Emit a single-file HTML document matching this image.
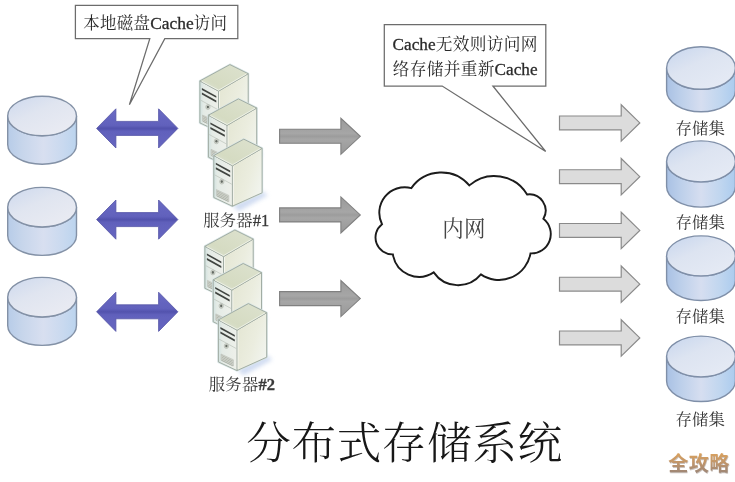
<!DOCTYPE html>
<html lang="zh-CN">
<head>
<meta charset="utf-8">
<title>分布式存储系统</title>
<style>
html,body{margin:0;padding:0;background:#fff;}
body{width:735px;height:482px;overflow:hidden;font-family:"Liberation Serif",serif;}
svg{display:block;}
</style>
</head>
<body>
<svg width="735" height="482" viewBox="0 0 735 482">
<defs>

<linearGradient id="cylBody" x1="0" y1="0" x2="1" y2="0">
  <stop offset="0" stop-color="#b7cce8"/><stop offset="0.2" stop-color="#c6d5eb"/>
  <stop offset="0.52" stop-color="#d8dff0"/><stop offset="0.8" stop-color="#c9d9ef"/>
  <stop offset="1" stop-color="#bbd4ee"/>
</linearGradient>
<linearGradient id="cylTop" x1="0.1" y1="0" x2="0.9" y2="1">
  <stop offset="0" stop-color="#cfdaee"/><stop offset="0.4" stop-color="#e0e5f0"/>
  <stop offset="1" stop-color="#ebecf3"/>
</linearGradient>
<linearGradient id="cylBodyR" x1="0" y1="0" x2="1" y2="0">
  <stop offset="0" stop-color="#a9c1e4"/><stop offset="0.2" stop-color="#bccfea"/>
  <stop offset="0.5" stop-color="#d6def0"/><stop offset="0.78" stop-color="#c0d6ef"/>
  <stop offset="1" stop-color="#abcbee"/>
</linearGradient>
<linearGradient id="cylTopR" x1="0.1" y1="0" x2="0.9" y2="1">
  <stop offset="0" stop-color="#c9d7ee"/><stop offset="0.4" stop-color="#dde4f1"/>
  <stop offset="1" stop-color="#e6ebf5"/>
</linearGradient>
<linearGradient id="purple" x1="0" y1="0" x2="0" y2="1">
  <stop offset="0" stop-color="#6a6ac4"/><stop offset="0.42" stop-color="#6161bc"/>
  <stop offset="0.5" stop-color="#5252ad"/><stop offset="0.58" stop-color="#6161bc"/>
  <stop offset="1" stop-color="#6666c0"/>
</linearGradient>
<linearGradient id="dgrey" x1="0" y1="0" x2="0" y2="1">
  <stop offset="0" stop-color="#9a9a9a"/><stop offset="0.42" stop-color="#a6a6a6"/>
  <stop offset="0.5" stop-color="#9c9c9c"/><stop offset="0.58" stop-color="#a6a6a6"/>
  <stop offset="1" stop-color="#989898"/>
</linearGradient>
<linearGradient id="srvFront" x1="0" y1="0" x2="1" y2="0">
  <stop offset="0" stop-color="#d2e2e0"/><stop offset="0.2" stop-color="#e4ebe6"/>
  <stop offset="1" stop-color="#eef0ea"/>
</linearGradient>
<linearGradient id="srvSide" x1="0" y1="0.2" x2="1" y2="0.8">
  <stop offset="0" stop-color="#e4e6d3"/><stop offset="0.55" stop-color="#ebeddf"/><stop offset="1" stop-color="#f2f5f0"/>
</linearGradient>
<linearGradient id="srvTop" x1="0" y1="1" x2="1" y2="0">
  <stop offset="0" stop-color="#dde4d6"/><stop offset="0.3" stop-color="#d5dbc2"/><stop offset="1" stop-color="#dde2cf"/>
</linearGradient>
<linearGradient id="wm" x1="0" y1="0" x2="0" y2="1">
  <stop offset="0" stop-color="#dca35d"/><stop offset="0.45" stop-color="#c2966a"/>
  <stop offset="1" stop-color="#968379"/>
</linearGradient>
<filter id="jpegsoft" x="0" y="0" width="735" height="482" filterUnits="userSpaceOnUse"><feGaussianBlur stdDeviation="0.45"/></filter>
<filter id="soft" x="-20%" y="-20%" width="140%" height="140%"><feGaussianBlur stdDeviation="2.2"/></filter>
</defs>
<rect width="735" height="482" fill="#fff"/>
<g filter="url(#jpegsoft)">
<path d="M7.7 116 V144.4 A34.4 19.8 0 0 0 76.5 144.4 V116 A34.4 19.8 0 0 1 7.7 116 Z" fill="url(#cylBody)" stroke="#8391a6" stroke-width="1.4"/>
<ellipse cx="42.1" cy="116" rx="34.4" ry="19.8" fill="url(#cylTop)" stroke="#8391a6" stroke-width="1.4"/>
<path d="M7.7 207.2 V235.6 A34.4 19.8 0 0 0 76.5 235.6 V207.2 A34.4 19.8 0 0 1 7.7 207.2 Z" fill="url(#cylBody)" stroke="#8391a6" stroke-width="1.4"/>
<ellipse cx="42.1" cy="207.2" rx="34.4" ry="19.8" fill="url(#cylTop)" stroke="#8391a6" stroke-width="1.4"/>
<path d="M7.7 297.2 V325.6 A34.4 19.8 0 0 0 76.5 325.6 V297.2 A34.4 19.8 0 0 1 7.7 297.2 Z" fill="url(#cylBody)" stroke="#8391a6" stroke-width="1.4"/>
<ellipse cx="42.1" cy="297.2" rx="34.4" ry="19.8" fill="url(#cylTop)" stroke="#8391a6" stroke-width="1.4"/>
<path d="M666.6 68 V90.5 A34.4 21.3 0 0 0 735.4 90.5 V68 A34.4 21.3 0 0 1 666.6 68 Z" fill="url(#cylBodyR)" stroke="#7f8fa8" stroke-width="1.4"/>
<ellipse cx="701" cy="68" rx="34.4" ry="21.3" fill="url(#cylTopR)" stroke="#7f8fa8" stroke-width="1.4"/>
<path d="M666.6 161.4 V186.6 A34.4 20.5 0 0 0 735.4 186.6 V161.4 A34.4 20.5 0 0 1 666.6 161.4 Z" fill="url(#cylBodyR)" stroke="#7f8fa8" stroke-width="1.4"/>
<ellipse cx="701" cy="161.4" rx="34.4" ry="20.5" fill="url(#cylTopR)" stroke="#7f8fa8" stroke-width="1.4"/>
<path d="M666.6 255.9 V280.5 A34.4 20 0 0 0 735.4 280.5 V255.9 A34.4 20 0 0 1 666.6 255.9 Z" fill="url(#cylBodyR)" stroke="#7f8fa8" stroke-width="1.4"/>
<ellipse cx="701" cy="255.9" rx="34.4" ry="20" fill="url(#cylTopR)" stroke="#7f8fa8" stroke-width="1.4"/>
<path d="M666.6 356.5 V381.1 A34.4 20.4 0 0 0 735.4 381.1 V356.5 A34.4 20.4 0 0 1 666.6 356.5 Z" fill="url(#cylBodyR)" stroke="#7f8fa8" stroke-width="1.4"/>
<ellipse cx="701" cy="356.5" rx="34.4" ry="20.4" fill="url(#cylTopR)" stroke="#7f8fa8" stroke-width="1.4"/>
<polygon points="96.6,128.4 115.9,108.8 115.9,121.4 158.6,121.4 158.6,108.8 177.9,128.4 158.6,148 158.6,135.4 115.9,135.4 115.9,148" fill="url(#purple)" stroke="#5454a6" stroke-width="0.8" stroke-linejoin="round"/>
<polygon points="96.6,219.6 115.9,200 115.9,212.6 158.6,212.6 158.6,200 177.9,219.6 158.6,239.2 158.6,226.6 115.9,226.6 115.9,239.2" fill="url(#purple)" stroke="#5454a6" stroke-width="0.8" stroke-linejoin="round"/>
<polygon points="96.6,311.8 115.9,292.2 115.9,304.8 158.6,304.8 158.6,292.2 177.9,311.8 158.6,331.4 158.6,318.8 115.9,318.8 115.9,331.4" fill="url(#purple)" stroke="#5454a6" stroke-width="0.8" stroke-linejoin="round"/>
<polygon points="279.6,129.3 340.9,129.3 340.9,118.3 360.3,136.3 340.9,154.3 340.9,143.3 279.6,143.3" fill="url(#dgrey)" stroke="#808080" stroke-width="1.1" stroke-linejoin="miter"/>
<polygon points="279.6,207.9 340.9,207.9 340.9,196.9 360.3,214.9 340.9,232.9 340.9,221.9 279.6,221.9" fill="url(#dgrey)" stroke="#808080" stroke-width="1.1" stroke-linejoin="miter"/>
<polygon points="279.6,291.6 340.9,291.6 340.9,280.6 360.3,298.6 340.9,316.6 340.9,305.6 279.6,305.6" fill="url(#dgrey)" stroke="#808080" stroke-width="1.1" stroke-linejoin="miter"/>
<polygon points="559.5,116 621.2,116 621.2,104.7 639.8,122.9 621.2,141.1 621.2,129.8 559.5,129.8" fill="#dcdcdc" stroke="#8a8a8a" stroke-width="1.2" stroke-linejoin="miter"/>
<polygon points="559.5,169.75 621.2,169.75 621.2,158.45 639.8,176.65 621.2,194.85 621.2,183.55 559.5,183.55" fill="#dcdcdc" stroke="#8a8a8a" stroke-width="1.2" stroke-linejoin="miter"/>
<polygon points="559.5,223.5 621.2,223.5 621.2,212.2 639.8,230.4 621.2,248.6 621.2,237.3 559.5,237.3" fill="#dcdcdc" stroke="#8a8a8a" stroke-width="1.2" stroke-linejoin="miter"/>
<polygon points="559.5,277.25 621.2,277.25 621.2,265.95 639.8,284.15 621.2,302.35 621.2,291.05 559.5,291.05" fill="#dcdcdc" stroke="#8a8a8a" stroke-width="1.2" stroke-linejoin="miter"/>
<polygon points="559.5,331 621.2,331 621.2,319.7 639.8,337.9 621.2,356.1 621.2,344.8 559.5,344.8" fill="#dcdcdc" stroke="#8a8a8a" stroke-width="1.2" stroke-linejoin="miter"/>
<g><polygon points="218.5,130.6 248.2,116.6 253.9,120.6 224.9,136.6" fill="#c4d3ee" opacity="0.8" filter="url(#soft)"/><polygon points="199.9,80.9 229.9,64.6 248.2,73.7 248.2,118.2 218.5,131.6 199.9,122.9" fill="none" stroke="#d6e4e6" stroke-width="2.2" stroke-linejoin="round" opacity="0.9"/><polygon points="218.5,91.1 248.2,73.7 248.2,118.2 218.5,131.6" fill="url(#srvSide)" stroke="#a2ada4" stroke-width="1" stroke-linejoin="round"/><polygon points="199.9,80.9 218.5,91.1 218.5,131.6 199.9,122.9" fill="url(#srvFront)" stroke="#a2ada4" stroke-width="1" stroke-linejoin="round"/><polygon points="229.9,64.6 248.2,73.7 218.5,91.1 199.9,80.9" fill="url(#srvTop)" stroke="#a2ada4" stroke-width="1" stroke-linejoin="round"/><polyline points="201.7,81.2 218.6,90.2 246.5,73.9" fill="none" stroke="#f4f6ee" stroke-width="0.9" opacity="0.9"/><polyline points="219.5,91.8 219.5,130.2" fill="none" stroke="#f7f8f2" stroke-width="0.9" opacity="0.9"/><polygon points="201.9,88.1 216.3,96 216.3,97.8 201.9,89.9" fill="#414441"/><polygon points="201.9,92.6 216.3,100.5 216.3,102.5 201.9,94.6" fill="#414441"/><polyline points="200.7,100.2 217.9,109.63" fill="none" stroke="#bcc3ba" stroke-width="0.7"/><ellipse cx="207.9" cy="107" rx="2.2" ry="2.5" fill="#d0d4cb" stroke="#a7ada4" stroke-width="0.5"/><ellipse cx="207.9" cy="107" rx="1.1" ry="1.3" fill="#646a64"/><polygon points="202.5,115 214.9,120.78 214.9,127 202.5,121.2" fill="#d8dbd3" stroke="#aeb3aa" stroke-width="0.5"/><polyline points="203.1,116.5 214.3,122.03" fill="none" stroke="#a4a99f" stroke-width="0.7"/><polyline points="203.1,118.1 214.3,123.63" fill="none" stroke="#a4a99f" stroke-width="0.7"/><polyline points="203.1,119.7 214.3,125.23" fill="none" stroke="#a4a99f" stroke-width="0.7"/><polyline points="203.1,121.3 214.3,126.83" fill="none" stroke="#a4a99f" stroke-width="0.7"/></g>
<g><polygon points="227,164.9 256.7,150.9 262.4,154.9 233.4,170.9" fill="#c4d3ee" opacity="0.8" filter="url(#soft)"/><polygon points="208.4,115.2 238.4,98.9 256.7,108 256.7,152.5 227,165.9 208.4,157.2" fill="none" stroke="#d6e4e6" stroke-width="2.2" stroke-linejoin="round" opacity="0.9"/><polygon points="227,125.4 256.7,108 256.7,152.5 227,165.9" fill="url(#srvSide)" stroke="#a2ada4" stroke-width="1" stroke-linejoin="round"/><polygon points="208.4,115.2 227,125.4 227,165.9 208.4,157.2" fill="url(#srvFront)" stroke="#a2ada4" stroke-width="1" stroke-linejoin="round"/><polygon points="238.4,98.9 256.7,108 227,125.4 208.4,115.2" fill="url(#srvTop)" stroke="#a2ada4" stroke-width="1" stroke-linejoin="round"/><polyline points="210.2,115.5 227.1,124.5 255,108.2" fill="none" stroke="#f4f6ee" stroke-width="0.9" opacity="0.9"/><polyline points="228,126.1 228,164.5" fill="none" stroke="#f7f8f2" stroke-width="0.9" opacity="0.9"/><polygon points="210.4,122.4 224.8,130.3 224.8,132.1 210.4,124.2" fill="#414441"/><polygon points="210.4,126.9 224.8,134.8 224.8,136.8 210.4,128.9" fill="#414441"/><polyline points="209.2,134.5 226.4,143.93" fill="none" stroke="#bcc3ba" stroke-width="0.7"/><ellipse cx="216.4" cy="141.3" rx="2.2" ry="2.5" fill="#d0d4cb" stroke="#a7ada4" stroke-width="0.5"/><ellipse cx="216.4" cy="141.3" rx="1.1" ry="1.3" fill="#646a64"/><polygon points="211,149.3 223.4,155.08 223.4,161.3 211,155.5" fill="#d8dbd3" stroke="#aeb3aa" stroke-width="0.5"/><polyline points="211.6,150.8 222.8,156.33" fill="none" stroke="#a4a99f" stroke-width="0.7"/><polyline points="211.6,152.4 222.8,157.93" fill="none" stroke="#a4a99f" stroke-width="0.7"/><polyline points="211.6,154 222.8,159.53" fill="none" stroke="#a4a99f" stroke-width="0.7"/><polyline points="211.6,155.6 222.8,161.13" fill="none" stroke="#a4a99f" stroke-width="0.7"/></g>
<g><polygon points="232.4,205.2 262.1,191.2 267.8,195.2 238.8,211.2" fill="#c4d3ee" opacity="0.8" filter="url(#soft)"/><polygon points="213.8,155.5 243.8,139.2 262.1,148.3 262.1,192.8 232.4,206.2 213.8,197.5" fill="none" stroke="#d6e4e6" stroke-width="2.2" stroke-linejoin="round" opacity="0.9"/><polygon points="232.4,165.7 262.1,148.3 262.1,192.8 232.4,206.2" fill="url(#srvSide)" stroke="#a2ada4" stroke-width="1" stroke-linejoin="round"/><polygon points="213.8,155.5 232.4,165.7 232.4,206.2 213.8,197.5" fill="url(#srvFront)" stroke="#a2ada4" stroke-width="1" stroke-linejoin="round"/><polygon points="243.8,139.2 262.1,148.3 232.4,165.7 213.8,155.5" fill="url(#srvTop)" stroke="#a2ada4" stroke-width="1" stroke-linejoin="round"/><polyline points="215.6,155.8 232.5,164.8 260.4,148.5" fill="none" stroke="#f4f6ee" stroke-width="0.9" opacity="0.9"/><polyline points="233.4,166.4 233.4,204.8" fill="none" stroke="#f7f8f2" stroke-width="0.9" opacity="0.9"/><polygon points="215.8,162.7 230.2,170.6 230.2,172.4 215.8,164.5" fill="#414441"/><polygon points="215.8,167.2 230.2,175.1 230.2,177.1 215.8,169.2" fill="#414441"/><polyline points="214.6,174.8 231.8,184.23" fill="none" stroke="#bcc3ba" stroke-width="0.7"/><ellipse cx="221.8" cy="181.6" rx="2.2" ry="2.5" fill="#d0d4cb" stroke="#a7ada4" stroke-width="0.5"/><ellipse cx="221.8" cy="181.6" rx="1.1" ry="1.3" fill="#646a64"/><polygon points="216.4,189.6 228.8,195.38 228.8,201.6 216.4,195.8" fill="#d8dbd3" stroke="#aeb3aa" stroke-width="0.5"/><polyline points="217,191.1 228.2,196.63" fill="none" stroke="#a4a99f" stroke-width="0.7"/><polyline points="217,192.7 228.2,198.23" fill="none" stroke="#a4a99f" stroke-width="0.7"/><polyline points="217,194.3 228.2,199.83" fill="none" stroke="#a4a99f" stroke-width="0.7"/><polyline points="217,195.9 228.2,201.43" fill="none" stroke="#a4a99f" stroke-width="0.7"/></g>
<g><polygon points="223.5,296 253.2,282 258.9,286 229.9,302" fill="#c4d3ee" opacity="0.8" filter="url(#soft)"/><polygon points="204.9,246.3 234.9,230 253.2,239.1 253.2,283.6 223.5,297 204.9,288.3" fill="none" stroke="#d6e4e6" stroke-width="2.2" stroke-linejoin="round" opacity="0.9"/><polygon points="223.5,256.5 253.2,239.1 253.2,283.6 223.5,297" fill="url(#srvSide)" stroke="#a2ada4" stroke-width="1" stroke-linejoin="round"/><polygon points="204.9,246.3 223.5,256.5 223.5,297 204.9,288.3" fill="url(#srvFront)" stroke="#a2ada4" stroke-width="1" stroke-linejoin="round"/><polygon points="234.9,230 253.2,239.1 223.5,256.5 204.9,246.3" fill="url(#srvTop)" stroke="#a2ada4" stroke-width="1" stroke-linejoin="round"/><polyline points="206.7,246.6 223.6,255.6 251.5,239.3" fill="none" stroke="#f4f6ee" stroke-width="0.9" opacity="0.9"/><polyline points="224.5,257.2 224.5,295.6" fill="none" stroke="#f7f8f2" stroke-width="0.9" opacity="0.9"/><polygon points="206.9,253.5 221.3,261.4 221.3,263.2 206.9,255.3" fill="#414441"/><polygon points="206.9,258 221.3,265.9 221.3,267.9 206.9,260" fill="#414441"/><polyline points="205.7,265.6 222.9,275.03" fill="none" stroke="#bcc3ba" stroke-width="0.7"/><ellipse cx="212.9" cy="272.4" rx="2.2" ry="2.5" fill="#d0d4cb" stroke="#a7ada4" stroke-width="0.5"/><ellipse cx="212.9" cy="272.4" rx="1.1" ry="1.3" fill="#646a64"/><polygon points="207.5,280.4 219.9,286.18 219.9,292.4 207.5,286.6" fill="#d8dbd3" stroke="#aeb3aa" stroke-width="0.5"/><polyline points="208.1,281.9 219.3,287.43" fill="none" stroke="#a4a99f" stroke-width="0.7"/><polyline points="208.1,283.5 219.3,289.03" fill="none" stroke="#a4a99f" stroke-width="0.7"/><polyline points="208.1,285.1 219.3,290.63" fill="none" stroke="#a4a99f" stroke-width="0.7"/><polyline points="208.1,286.7 219.3,292.23" fill="none" stroke="#a4a99f" stroke-width="0.7"/></g>
<g><polygon points="231.8,329.5 261.5,315.5 267.2,319.5 238.2,335.5" fill="#c4d3ee" opacity="0.8" filter="url(#soft)"/><polygon points="213.2,279.8 243.2,263.5 261.5,272.6 261.5,317.1 231.8,330.5 213.2,321.8" fill="none" stroke="#d6e4e6" stroke-width="2.2" stroke-linejoin="round" opacity="0.9"/><polygon points="231.8,290 261.5,272.6 261.5,317.1 231.8,330.5" fill="url(#srvSide)" stroke="#a2ada4" stroke-width="1" stroke-linejoin="round"/><polygon points="213.2,279.8 231.8,290 231.8,330.5 213.2,321.8" fill="url(#srvFront)" stroke="#a2ada4" stroke-width="1" stroke-linejoin="round"/><polygon points="243.2,263.5 261.5,272.6 231.8,290 213.2,279.8" fill="url(#srvTop)" stroke="#a2ada4" stroke-width="1" stroke-linejoin="round"/><polyline points="215,280.1 231.9,289.1 259.8,272.8" fill="none" stroke="#f4f6ee" stroke-width="0.9" opacity="0.9"/><polyline points="232.8,290.7 232.8,329.1" fill="none" stroke="#f7f8f2" stroke-width="0.9" opacity="0.9"/><polygon points="215.2,287 229.6,294.9 229.6,296.7 215.2,288.8" fill="#414441"/><polygon points="215.2,291.5 229.6,299.4 229.6,301.4 215.2,293.5" fill="#414441"/><polyline points="214,299.1 231.2,308.53" fill="none" stroke="#bcc3ba" stroke-width="0.7"/><ellipse cx="221.2" cy="305.9" rx="2.2" ry="2.5" fill="#d0d4cb" stroke="#a7ada4" stroke-width="0.5"/><ellipse cx="221.2" cy="305.9" rx="1.1" ry="1.3" fill="#646a64"/><polygon points="215.8,313.9 228.2,319.68 228.2,325.9 215.8,320.1" fill="#d8dbd3" stroke="#aeb3aa" stroke-width="0.5"/><polyline points="216.4,315.4 227.6,320.93" fill="none" stroke="#a4a99f" stroke-width="0.7"/><polyline points="216.4,317 227.6,322.53" fill="none" stroke="#a4a99f" stroke-width="0.7"/><polyline points="216.4,318.6 227.6,324.13" fill="none" stroke="#a4a99f" stroke-width="0.7"/><polyline points="216.4,320.2 227.6,325.73" fill="none" stroke="#a4a99f" stroke-width="0.7"/></g>
<g><polygon points="237,369.6 266.7,355.6 272.4,359.6 243.4,375.6" fill="#c4d3ee" opacity="0.8" filter="url(#soft)"/><polygon points="218.4,319.9 248.4,303.6 266.7,312.7 266.7,357.2 237,370.6 218.4,361.9" fill="none" stroke="#d6e4e6" stroke-width="2.2" stroke-linejoin="round" opacity="0.9"/><polygon points="237,330.1 266.7,312.7 266.7,357.2 237,370.6" fill="url(#srvSide)" stroke="#a2ada4" stroke-width="1" stroke-linejoin="round"/><polygon points="218.4,319.9 237,330.1 237,370.6 218.4,361.9" fill="url(#srvFront)" stroke="#a2ada4" stroke-width="1" stroke-linejoin="round"/><polygon points="248.4,303.6 266.7,312.7 237,330.1 218.4,319.9" fill="url(#srvTop)" stroke="#a2ada4" stroke-width="1" stroke-linejoin="round"/><polyline points="220.2,320.2 237.1,329.2 265,312.9" fill="none" stroke="#f4f6ee" stroke-width="0.9" opacity="0.9"/><polyline points="238,330.8 238,369.2" fill="none" stroke="#f7f8f2" stroke-width="0.9" opacity="0.9"/><polygon points="220.4,327.1 234.8,335 234.8,336.8 220.4,328.9" fill="#414441"/><polygon points="220.4,331.6 234.8,339.5 234.8,341.5 220.4,333.6" fill="#414441"/><polyline points="219.2,339.2 236.4,348.63" fill="none" stroke="#bcc3ba" stroke-width="0.7"/><ellipse cx="226.4" cy="346" rx="2.2" ry="2.5" fill="#d0d4cb" stroke="#a7ada4" stroke-width="0.5"/><ellipse cx="226.4" cy="346" rx="1.1" ry="1.3" fill="#646a64"/><polygon points="221,354 233.4,359.78 233.4,366 221,360.2" fill="#d8dbd3" stroke="#aeb3aa" stroke-width="0.5"/><polyline points="221.6,355.5 232.8,361.03" fill="none" stroke="#a4a99f" stroke-width="0.7"/><polyline points="221.6,357.1 232.8,362.63" fill="none" stroke="#a4a99f" stroke-width="0.7"/><polyline points="221.6,358.7 232.8,364.23" fill="none" stroke="#a4a99f" stroke-width="0.7"/><polyline points="221.6,360.3 232.8,365.83" fill="none" stroke="#a4a99f" stroke-width="0.7"/></g>
<path transform="translate(0 0.7)" d="M382 223.5A25.5 25.5 0 0 1 411.3 187.4A36.7 36.7 0 0 1 469.3 184.7A38.2 38.2 0 0 1 527.1 193.8A16.3 16.3 0 0 1 543.4 218.1A19.4 19.4 0 0 1 530.5 252.7A32 32 0 0 1 480.9 273.7A29.6 29.6 0 0 1 433.7 271.7A26.5 26.5 0 0 1 392.9 253.7A16.9 16.9 0 0 1 382 223.5Z" fill="#fff" stroke="#1a1a1a" stroke-width="1.9" stroke-linejoin="miter"/>
<path d="M75.4 5.4 H237.8 V38.6 H164.8 L129.4 104.8 L149.8 38.6 H75.4 Z" fill="#fff" stroke="#6c6c6c" stroke-width="1.25" stroke-linejoin="miter"/>
<path d="M384.3 24.6 H545.8 V86 H492.9 L545.7 151.5 L442.2 86 H384.3 Z" fill="#fff" stroke="#6c6c6c" stroke-width="1.25" stroke-linejoin="miter"/>
<g role="img" aria-label="本地磁盘Cache访问" fill="#2b2b2b" opacity="0.995">
<text x="83.33 100.08 116.83 133.57" y="29.3" font-family="&quot;Liberation Serif&quot;, &quot;Noto Serif CJK SC&quot;, serif" font-size="16.5">本地磁盘</text>
<text x="150.2" y="29.3" font-family="&quot;Liberation Serif&quot;, serif" font-size="17.4" font-weight="normal" stroke="#2b2b2b" stroke-width="0.3">Cache</text>
<text x="193.8 210.55" y="29.3" font-family="&quot;Liberation Serif&quot;, &quot;Noto Serif CJK SC&quot;, serif" font-size="16.5">访问</text>
</g>
<g role="img" aria-label="Cache无效则访问网" fill="#2b2b2b" opacity="0.995">
<text x="392.6" y="50" font-family="&quot;Liberation Serif&quot;, serif" font-size="17.2" font-weight="normal" stroke="#2b2b2b" stroke-width="0.3">Cache</text>
<text x="435.72 452.72 469.72 486.72 503.72 520.72" y="50" font-family="&quot;Liberation Serif&quot;, &quot;Noto Serif CJK SC&quot;, serif" font-size="16.7">无效则访问网</text>
</g>
<g role="img" aria-label="络存储并重新Cache" fill="#2b2b2b" opacity="0.995">
<text x="392.75 409.75 426.75 443.75 460.75 477.75" y="74.5" font-family="&quot;Liberation Serif&quot;, &quot;Noto Serif CJK SC&quot;, serif" font-size="16.7">络存储并重新</text>
<text x="494.6" y="74.5" font-family="&quot;Liberation Serif&quot;, serif" font-size="17.2" font-weight="normal" stroke="#2b2b2b" stroke-width="0.3">Cache</text>
</g>
<g role="img" aria-label="服务器#1" fill="#3a3a3a" opacity="0.995">
<text x="203.15 219.75 236.35" y="226.2" font-family="&quot;Liberation Serif&quot;, &quot;Noto Serif CJK SC&quot;, serif" font-size="16.3">服务器</text>
<text x="252.8" y="226.2" font-family="&quot;Liberation Serif&quot;, serif" font-size="16.5" font-weight="normal" stroke="#3a3a3a" stroke-width="0.3">&#35;1</text>
</g>
<g role="img" aria-label="服务器#2" fill="#3a3a3a" opacity="0.995">
<text x="208.75 225.35 241.95" y="390" font-family="&quot;Liberation Serif&quot;, &quot;Noto Serif CJK SC&quot;, serif" font-size="16.3">服务器</text>
<text x="258.4" y="390" font-family="&quot;Liberation Serif&quot;, serif" font-size="16.5" font-weight="bold" stroke="#3a3a3a" stroke-width="0.3">&#35;2</text>
</g>
<g role="img" aria-label="存储集" fill="#363636" opacity="0.995">
<text x="675.4 692 708.6" y="134.4" font-family="&quot;Liberation Serif&quot;, &quot;Noto Serif CJK SC&quot;, serif" font-size="16.4">存储集</text>
</g>
<g role="img" aria-label="存储集" fill="#363636" opacity="0.995">
<text x="675.4 692 708.6" y="228.2" font-family="&quot;Liberation Serif&quot;, &quot;Noto Serif CJK SC&quot;, serif" font-size="16.4">存储集</text>
</g>
<g role="img" aria-label="存储集" fill="#363636" opacity="0.995">
<text x="675.4 692 708.6" y="322.4" font-family="&quot;Liberation Serif&quot;, &quot;Noto Serif CJK SC&quot;, serif" font-size="16.4">存储集</text>
</g>
<g role="img" aria-label="存储集" fill="#363636" opacity="0.995">
<text x="675.4 692 708.6" y="425" font-family="&quot;Liberation Serif&quot;, &quot;Noto Serif CJK SC&quot;, serif" font-size="16.4">存储集</text>
</g>
<g role="img" aria-label="内网" fill="#444" opacity="0.995">
<text x="442.2 464.1" y="236.2" font-family="&quot;Liberation Serif&quot;, &quot;Noto Serif CJK SC&quot;, serif" font-size="21.5">内网</text>
</g>
<g role="img" aria-label="分布式存储系统" fill="#161616" opacity="0.995">
<text x="246.25 291.45 336.65 381.85 427.05 472.25 517.45" y="458.5" font-family="&quot;Liberation Serif&quot;, &quot;Noto Serif CJK SC&quot;, serif" font-size="44.7" font-weight="300">分布式存储系统</text>
</g>
<g aria-hidden="true" fill="#8d7d74" opacity="0.45">
<text x="668.75 689.25 709.75" y="471.6" font-family="&quot;Liberation Sans&quot;, &quot;Noto Sans CJK SC&quot;, sans-serif" font-size="20.2" font-weight="bold">全攻略</text>
</g>
<g role="img" aria-label="全攻略" fill="url(#wm)" opacity="0.995">
<text x="668.25 688.75 709.25" y="471" font-family="&quot;Liberation Sans&quot;, &quot;Noto Sans CJK SC&quot;, sans-serif" font-size="20.2" font-weight="bold">全攻略</text>
</g>
</g>
</svg>
</body>
</html>
